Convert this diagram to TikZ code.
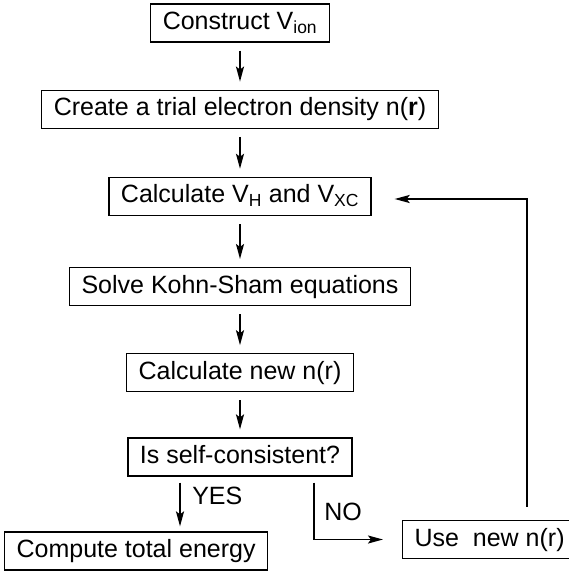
\documentclass[tikz,border=0pt]{standalone}
\usepackage{fontspec}
\setmainfont{Liberation Sans}
\usetikzlibrary{arrows.meta,positioning}

\begin{document}
\begin{tikzpicture}[
    x=1pt, y=1pt,
    font=\fontsize{25}{30}\selectfont,
    node distance=47pt,
    box/.style={draw, line width=1.2pt, inner xsep=12pt, inner ysep=0pt,
                minimum height=38pt, text height=18pt, text depth=5pt},
    arr/.style={-{Stealth[length=15pt, width=8pt, inset=3pt]}, line width=1.9pt},
    gap/.style={shorten <=8pt, shorten >=8pt}
]
\useasboundingbox (0,0) rectangle (568,-573);

\node[box] (ion) at (240,-23) {Construct V\textsubscript{ion}};
\node[box, below=of ion] (trial)
    {Create a trial electron density n(\textbf{r})};
\node[box, below=48pt of trial] (hxc)
    {Calculate V\textsubscript{H} and V\textsubscript{XC}};
\node[box, below=51pt of hxc] (ks) {Solve Kohn-Sham equations};
\node[box, below=of ks] (newn) {Calculate new n(r)};
\node[box, below=45pt of newn] (check) {Is self-consistent?};

\node[box, anchor=west] (energy) at (4,-551) {Compute total energy};
\node[box, anchor=west] (usenew) at (402,-539.5) {Use~ new n(r)};

\coordinate (corner) at (527,-199);

\draw[arr, gap] (ion) -- (trial);
\draw[arr, gap] (trial) -- (hxc);
\draw[arr, gap] (hxc) -- (ks);
\draw[arr, gap] (ks) -- (newn);
\draw[arr, gap] (newn) -- (check);

% YES / NO branches
\draw[arr, shorten <=6pt, shorten >=5pt] ([xshift=-60pt]check.south)
    -- node[right=8pt, yshift=8pt] {YES} ([xshift=-60pt]check.south |- energy.north);
\draw[arr, shorten <=6pt, shorten >=19pt] ([xshift=74pt]check.south)
    |- node[pos=0.28, right=6pt] {NO} (usenew.west);

% feedback loop
\draw[arr, shorten <=13pt, shorten >=23pt] (usenew.north -| corner)
    -- (corner) -- (hxc.east |- corner);

\end{tikzpicture}
\end{document}
